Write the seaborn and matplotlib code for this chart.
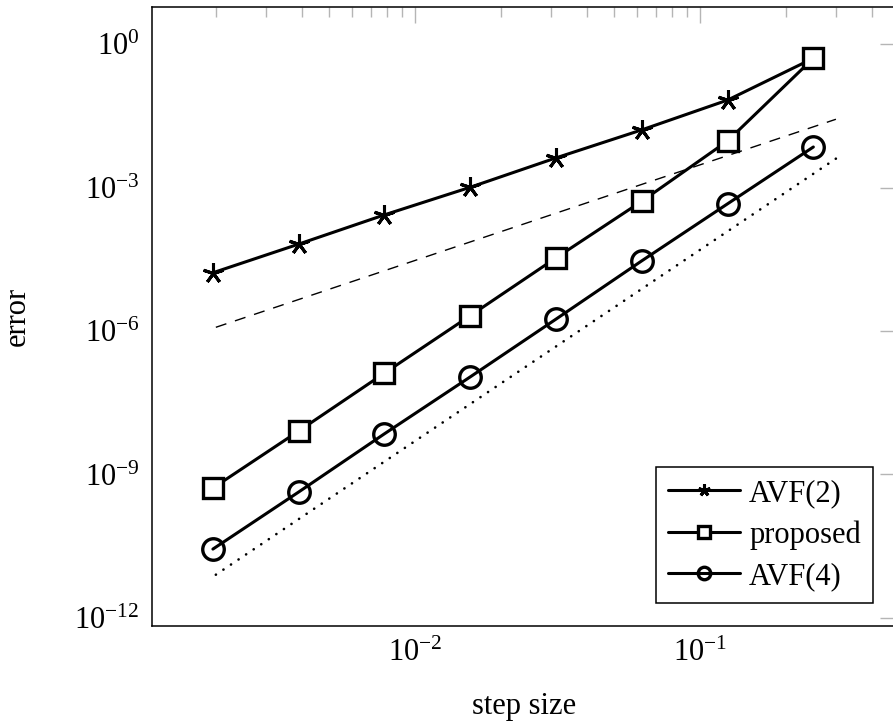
# Convergence plot: error against step size for three schemes
import numpy as np
import pandas as pd
import matplotlib
matplotlib.use("Agg")
import matplotlib.pyplot as plt
import matplotlib.ticker as mticker
import seaborn as sns

# data
step_size = [2**-9, 2**-8, 2**-7, 2**-6, 2**-5, 2**-4, 2**-3, 2**-2]
err_avf2 = [1.66e-5, 6.6e-5, 2.7e-4, 1.02e-3, 4.2e-3, 1.62e-2, 6.8e-2, 0.51]
err_proposed = [5.2e-10, 8.1e-9, 1.32e-7, 2.1e-6, 3.4e-5, 5.2e-4, 9.5e-3, 0.51]
err_avf4 = [2.75e-11, 4.3e-10, 7.1e-9, 1.1e-7, 1.78e-6, 2.95e-5, 4.6e-4, 7.1e-3]

# reference slopes (order 2 dashed, order 4 dotted)
ref_h = [0.002, 0.3]
ref_order2 = [0.3 * h**2 for h in ref_h]
ref_order4 = [0.5 * h**4 for h in ref_h]

sns.set_theme(style="white")
plt.rcParams["font.family"] = ["Liberation Serif", "DejaVu Serif"]
plt.rcParams["mathtext.fontset"] = "custom"
plt.rcParams["mathtext.rm"] = "Liberation Serif"
plt.rcParams["mathtext.it"] = "Liberation Serif:italic"
plt.rcParams["text.color"] = "black"
plt.rcParams["axes.labelcolor"] = "black"

fs = 22

fig = plt.figure(figsize=(8.93, 7.23), dpi=100)
ax = fig.add_axes([152 / 893, 1 - 626 / 723, 744 / 893, 619 / 723])

df = pd.DataFrame({"h": step_size, "avf2": err_avf2,
                   "proposed": err_proposed, "avf4": err_avf4})
ref = pd.DataFrame({"h": ref_h, "o2": ref_order2, "o4": ref_order4})

sns.lineplot(data=ref, x="h", y="o2", ax=ax, color="black", lw=1.0,
             zorder=1)
ax.lines[-1].set_dashes((8, 6.5))
sns.lineplot(data=ref, x="h", y="o4", ax=ax, color="black", lw=1.9,
             zorder=1)
ax.lines[-1].set_dashes((0.05, 3.4))
ax.lines[-1].set_dash_capstyle("round")

sns.lineplot(data=df, x="h", y="avf2", ax=ax, color="black", lw=2.2,
             marker=(5, 2, 0), markersize=15, markeredgewidth=2.2,
             markeredgecolor="black", label="AVF(2)", zorder=3)
sns.lineplot(data=df, x="h", y="proposed", ax=ax, color="black", lw=2.2,
             marker="s", markersize=15, markeredgewidth=2.4,
             markerfacecolor="white", markeredgecolor="black",
             label="proposed", zorder=4)
sns.lineplot(data=df, x="h", y="avf4", ax=ax, color="black", lw=2.2,
             marker="o", markersize=15.5, markeredgewidth=2.4,
             markerfacecolor="none", markeredgecolor="black",
             label="AVF(4)", zorder=5)

ax.set_xscale("log")
ax.set_yscale("log")
ax.set_xlim(10**-2.923, 10**-0.312)
ax.set_ylim(10**-12.17, 10**0.78)

ax.yaxis.set_major_locator(mticker.FixedLocator([1e0, 1e-3, 1e-6, 1e-9, 1e-12]))
ax.yaxis.set_major_formatter(mticker.LogFormatterMathtext())
ax.yaxis.set_minor_locator(mticker.NullLocator())
ax.xaxis.set_major_locator(mticker.LogLocator(base=10, numticks=10))
ax.xaxis.set_minor_locator(mticker.LogLocator(base=10, subs=np.arange(2, 10), numticks=20))
ax.xaxis.set_minor_formatter(mticker.NullFormatter())

for side in ax.spines.values():
    side.set_color("black")
    side.set_linewidth(1.1)

ax.tick_params(which="both", direction="in", color="#b5b5b5", width=1.0,
               top=True, right=True, labelsize=fs, labelcolor="black")
ax.tick_params(which="major", length=11.5, pad=9)
ax.tick_params(which="minor", length=7)

ax.set_xlabel("step size", fontsize=fs, va="top")
ax.set_ylabel("error", fontsize=fs)
ax.xaxis.set_label_coords(0.5, -0.106)
ax.yaxis.set_label_coords(-0.162, 0.5)

leg = ax.legend(loc="lower right", fontsize=fs, frameon=True, fancybox=False,
                framealpha=1, edgecolor="black", markerscale=0.58,
                handlelength=2.35, handletextpad=0.3, borderpad=0.4,
                labelspacing=0.4, borderaxespad=0.75)
leg.get_frame().set_linewidth(1.1)

fig.savefig("out.png", dpi=100)
